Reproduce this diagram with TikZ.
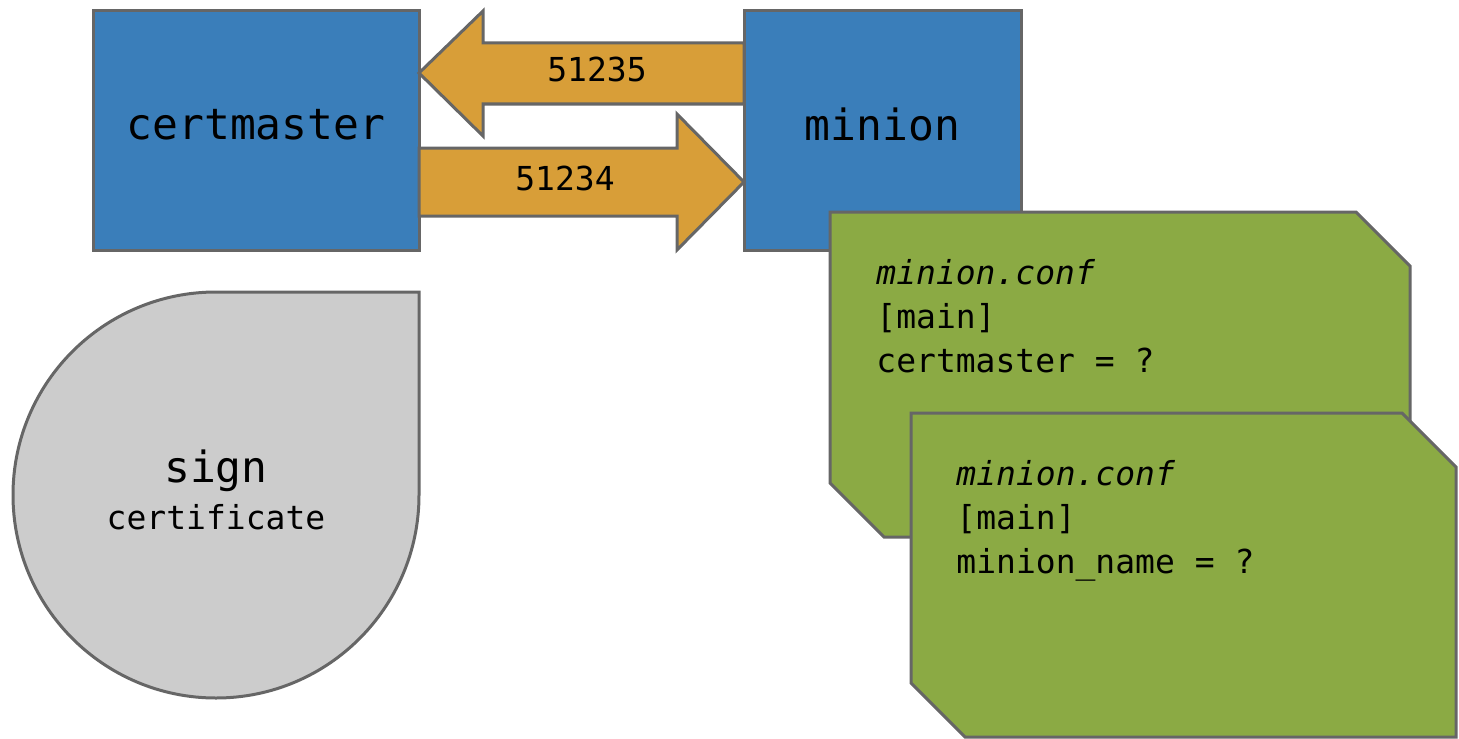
\documentclass[tikz,border=0pt]{standalone}
\usepackage{fontspec}
\setmonofont{DejaVu Sans Mono}
\usetikzlibrary{positioning}
\definecolor{hostblue}{RGB}{58,126,186}
\definecolor{pipeorange}{RGB}{216,158,56}
\definecolor{confgreen}{RGB}{139,170,68}
\definecolor{signgray}{RGB}{204,204,204}
\definecolor{edgegray}{RGB}{102,102,102}
\newcommand\BigMono{\ttfamily\fontsize{21.5}{26}\selectfont}
\newcommand\SmallMono{\ttfamily\fontsize{16.5}{22}\selectfont}
\newcommand\ConfCard[5]{%
    \draw[cardline] (#1,#2) coordinate(#5) -- (#3-54,#2) -- (#3,#2+54) -- (#3,#4)
        -- (#1+54,#4) -- (#1,#4-54) -- cycle;
}
\tikzset{
    edge/.style={draw=edgegray, line width=1.5pt, line join=miter},
    hostbox/.style={edge, fill=hostblue, outer sep=0pt, minimum height=119.5pt,
        text depth=6pt, font=\BigMono},
    pipe/.style={edge, fill=pipeorange},
    pipelabel/.style={font=\SmallMono, inner sep=0pt},
    cardline/.style={edge, fill=confgreen},
    conftext/.style={font=\SmallMono, align=left, inner sep=0pt, anchor=north west},
}

\begin{document}
\begin{tikzpicture}[x=0.5pt, y=-0.5pt]
    \useasboundingbox (0,0) rectangle (1459,738);
    \node[hostbox, minimum width=163pt] (certmaster) at (256,130.5) {certmaster};
    \node[hostbox, minimum width=138.5pt] (minion) at (882.5,130.5) {minion};
    % minion -> certmaster
    \draw[pipe] (certmaster.east |- 0,73) -- (483,11) -- (483,43) -- (minion.west |- 0,43)
        -- (minion.west |- 0,104) -- (483,104) -- (483,136) -- cycle;
    \node[pipelabel] (back) at (597,69) {51235};
    % certmaster -> minion
    \draw[pipe] (certmaster.east |- 0,148) -- (677,148) -- (677,114) -- (minion.west |- 0,182)
        -- (677,250) -- (677,216) -- (certmaster.east |- 0,216) -- cycle;
    \node[pipelabel] (forth) at (565,178) {51234};
    % signing
    \draw[edge, fill=signgray] (216,292) coordinate(drop) -- (419,292) -- (419,495)
        arc[start angle=0, end angle=270, radius=203] -- cycle;
    \node[align=center, inner sep=0pt] (sign) at (216,490)
        {{\BigMono sign}\\[5.5pt]{\SmallMono certificate}};
    % config files
    \ConfCard{830}{212}{1410}{537}{card1}
    \node[conftext] (conf1) at (876,259) {\textit{minion.conf}\\{[}main]\\certmaster = ?};
    \ConfCard{911}{413}{1456}{737}{card2}
    \node[conftext] (conf2) at (956,460) {\textit{minion.conf}\\{[}main]\\minion\_name = ?};
\end{tikzpicture}
\end{document}
